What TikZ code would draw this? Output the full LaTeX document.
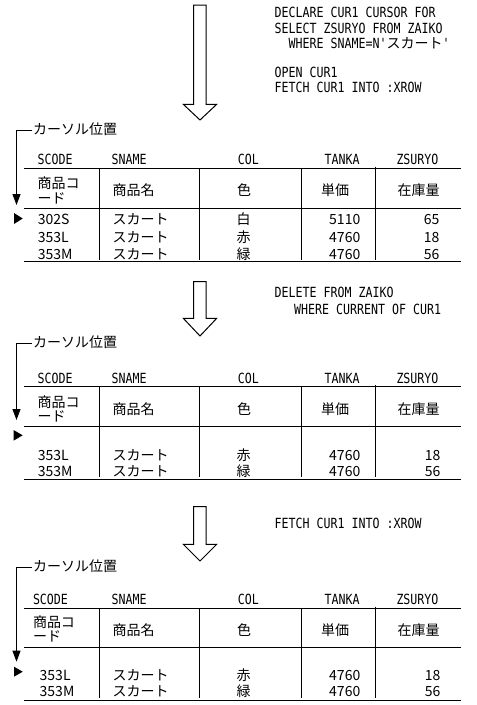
\documentclass[tikz,border=0pt]{standalone}
\usepackage{fontspec}
\newfontfamily\jpfont{Noto Sans CJK JP}
\newfontfamily\sqlfont[FakeStretch=0.83]{DejaVu Sans Mono}
\usetikzlibrary{arrows.meta}

\begin{document}
\begin{tikzpicture}[
      x=1pt, y=-1pt,
      sqltext/.style={font=\sqlfont\fontsize{14}{15}\selectfont, anchor=base west, inner sep=0pt},
      colname/.style={sqltext},
      jptext/.style={font=\jpfont\fontsize{14}{13}\selectfont, anchor=base west, inner sep=0pt},
      numtext/.style={jptext, anchor=base east},
      midtext/.style={jptext, anchor=base},
      rule/.style={line width=1pt},
      pointer/.style={line width=1pt, -{Triangle[width=8pt,length=11pt]}},
      marker/.style={fill=black},
      bigarrow/.style={draw, fill=white, line width=1pt},
  ]
    \useasboundingbox (0,0) rectangle (477,705);

    % first step
    \draw[bigarrow] (193.5,5) -- (206,5) -- (206,104.3) -- (216.7,104.3)
      -- (200,120) -- (183.3,104.3) -- (193.5,104.3) -- cycle;
    \node[sqltext] (declare) at (274.5,17.7) {DECLARE CUR1 CURSOR FOR};
    \node[sqltext] (select) at (274.5,33.7) {SELECT ZSURYO FROM ZAIKO};
    \node[sqltext] (where) at (288.5,48.7) {WHERE SNAME=N'{\jpfont スカート}'};
    \node[sqltext] (open) at (274.5,77) {OPEN CUR1};
    \node[sqltext] (fetchA) at (274.5,92.7) {FETCH CUR1 INTO :XROW};

    \node[jptext] (curA) at (33,134.3) {カーソル位置};
    \coordinate (tipA) at (16.5,205);
    \draw[pointer] ([shift={(-1pt,-1.5pt)}]curA.west) -| (tipA);
    \fill[marker] (14,213) -- (22.7,218.5) -- (14,224) -- cycle;

    \draw[rule] (24,168.5) -- (460.5,168.5);
    \draw[rule] (24,208) -- (460.5,208);
    \draw[rule] (24,261.7) -- (460.5,261.7);
    \draw[rule] (99.3,168.5) -- (99.3,259.5);
    \draw[rule] (199,168.5) -- (199,259.5);
    \draw[rule] (301,168.5) -- (301,259.5);
    \draw[rule] (375.5,166.7) -- (375.5,259.5);

    \node[colname] (scodeA) at (37.5,164.7) {SCODE};
    \node[colname] (snameA) at (111.5,164.7) {SNAME};
    \node[colname, anchor=base] (colA) at (248.3,164.7) {COL};
    \node[colname] (tankaA) at (324.5,164.7) {TANKA};
    \node[colname] (zsuryoA) at (396.3,164.7) {ZSURYO};

    \node[jptext] (codeA) at (37.5,188.8) {商品コ};
    \node[jptext] (codeAb) at (37.5,203) {ード};
    \node[jptext] (nameA) at (112.5,195.7) {商品名};
    \node[midtext] (iroA) at (244,195.7) {色};
    \node[jptext] (priceA) at (321,195.7) {単価};
    \node[jptext] (stockA) at (397.5,195.7) {在庫量};

    \node[jptext] (codeA1) at (37.6,224.7) {302S};
    \node[jptext] (nameA1) at (112.5,224.7) {スカート};
    \node[midtext] (iroA1) at (243.5,224.7) {白};
    \node[numtext] (priceA1) at (360.5,224.7) {5110};
    \node[numtext] (stockA1) at (439.5,224.7) {65};
    \node[jptext] (codeA2) at (37.6,242) {353L};
    \node[jptext] (nameA2) at (112.5,242) {スカート};
    \node[midtext] (iroA2) at (243.5,242) {赤};
    \node[numtext] (priceA2) at (360.5,242) {4760};
    \node[numtext] (stockA2) at (439.5,242) {18};
    \node[jptext] (codeA3) at (37.6,259.3) {353M};
    \node[jptext] (nameA3) at (112.5,259.3) {スカート};
    \node[midtext] (iroA3) at (243.5,259.3) {緑};
    \node[numtext] (priceA3) at (360.5,259.3) {4760};
    \node[numtext] (stockA3) at (439.5,259.3) {56};

    % second step
    \draw[bigarrow] (193.5,281.7) -- (206,281.7) -- (206,318.3) -- (216.7,318.3)
      -- (200,336) -- (183.3,318.3) -- (193.5,318.3) -- cycle;
    \node[sqltext] (delete) at (274.5,297.3) {DELETE FROM ZAIKO};
    \node[sqltext] (current) at (294,314) {WHERE CURRENT OF CUR1};

    \node[jptext] (curB) at (33,347.7) {カーソル位置};
    \coordinate (tipB) at (16.5,420);
    \draw[pointer] ([shift={(-1pt,-1.5pt)}]curB.west) -| (tipB);
    \fill[marker] (13.5,430) -- (22.7,435.3) -- (13.5,440.7) -- cycle;

    \draw[rule] (24,386.7) -- (460.5,386.7);
    \draw[rule] (24,426.7) -- (460.5,426.7);
    \draw[rule] (24,479.3) -- (460.5,479.3);
    \draw[rule] (99.3,386.7) -- (99.3,477.3);
    \draw[rule] (199,386.7) -- (199,477.3);
    \draw[rule] (301,386.7) -- (301,477.3);
    \draw[rule] (375.5,385) -- (375.5,477.3);

    \node[colname] (scodeB) at (37.5,383.3) {SCODE};
    \node[colname] (snameB) at (111.5,383.3) {SNAME};
    \node[colname, anchor=base] (colB) at (248.3,383.3) {COL};
    \node[colname] (tankaB) at (324.5,383.3) {TANKA};
    \node[colname] (zsuryoB) at (396.3,383.3) {ZSURYO};

    \node[jptext] (codeB) at (37.5,407.3) {商品コ};
    \node[jptext] (codeBb) at (37.5,421.3) {ード};
    \node[jptext] (nameB) at (112.5,414) {商品名};
    \node[midtext] (iroB) at (244,414) {色};
    \node[jptext] (priceB) at (321,414) {単価};
    \node[jptext] (stockB) at (397.5,414) {在庫量};

    \node[jptext] (codeB1) at (37.6,460) {353L};
    \node[jptext] (nameB1) at (112.5,460) {スカート};
    \node[midtext] (iroB1) at (243.5,460) {赤};
    \node[numtext] (priceB1) at (360.5,460) {4760};
    \node[numtext] (stockB1) at (440.5,460) {18};
    \node[jptext] (codeB2) at (37.6,476.7) {353M};
    \node[jptext] (nameB2) at (112.5,476.7) {スカート};
    \node[midtext] (iroB2) at (243.5,476.7) {緑};
    \node[numtext] (priceB2) at (360.5,476.7) {4760};
    \node[numtext] (stockB2) at (440.5,476.7) {56};

    % third step
    \draw[bigarrow] (193.5,506.7) -- (206,506.7) -- (206,544.3) -- (216.7,544.3)
      -- (200,561) -- (183.3,544.3) -- (193.5,544.3) -- cycle;
    \node[sqltext] (fetchB) at (274.5,528) {FETCH CUR1 INTO :XROW};

    \node[jptext] (curC) at (33,571) {カーソル位置};
    \coordinate (tipC) at (16.5,661.7);
    \draw[pointer] ([shift={(-1pt,-1.5pt)}]curC.west) -| (tipC);
    \fill[marker] (14,666.7) -- (22.7,671.7) -- (14,676.7) -- cycle;

    \draw[rule] (24,608.3) -- (460.5,608.3);
    \draw[rule] (24,647.7) -- (460.5,647.7);
    \draw[rule] (24,700.3) -- (460.5,700.3);
    \draw[rule] (99.3,608.3) -- (99.3,698.3);
    \draw[rule] (199,608.3) -- (199,698.3);
    \draw[rule] (301,608.3) -- (301,698.3);
    \draw[rule] (375.5,606.6) -- (375.5,698.3);

    \node[colname] (scodeC) at (32.8,604.3) {SCODE};
    \node[colname] (snameC) at (111.5,604.3) {SNAME};
    \node[colname, anchor=base] (colC) at (248.3,604.3) {COL};
    \node[colname] (tankaC) at (324.5,604.3) {TANKA};
    \node[colname] (zsuryoC) at (396.3,604.3) {ZSURYO};

    \node[jptext] (codeC) at (32.8,627.3) {商品コ};
    \node[jptext] (codeCb) at (32.8,641.3) {ード};
    \node[jptext] (nameC) at (112.5,635) {商品名};
    \node[midtext] (iroC) at (244,635) {色};
    \node[jptext] (priceC) at (321,635) {単価};
    \node[jptext] (stockC) at (397.5,635) {在庫量};

    \node[jptext] (codeC1) at (39.5,680) {353L};
    \node[jptext] (nameC1) at (112.5,680) {スカート};
    \node[midtext] (iroC1) at (243.5,680) {赤};
    \node[numtext] (priceC1) at (360.5,680) {4760};
    \node[numtext] (stockC1) at (440.5,680) {18};
    \node[jptext] (codeC2) at (39.5,696.7) {353M};
    \node[jptext] (nameC2) at (112.5,696.7) {スカート};
    \node[midtext] (iroC2) at (243.5,696.7) {緑};
    \node[numtext] (priceC2) at (360.5,696.7) {4760};
    \node[numtext] (stockC2) at (440.5,696.7) {56};
  \end{tikzpicture}
\end{document}
